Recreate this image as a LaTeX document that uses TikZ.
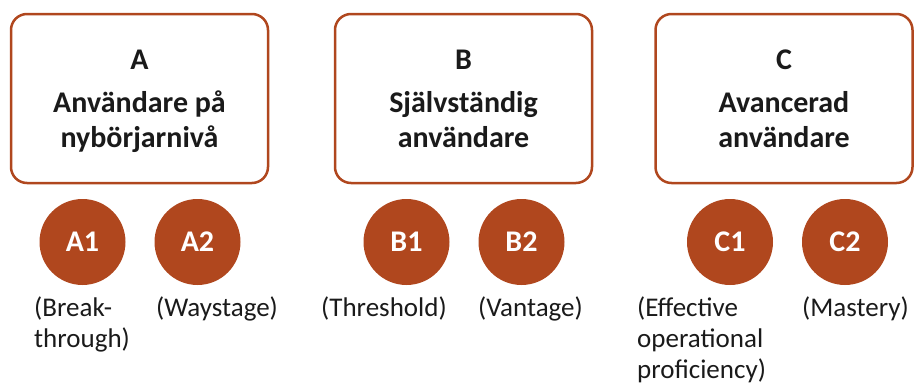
\documentclass[tikz,border=0pt]{standalone}
\usepackage{fontspec}
\setmainfont{Carlito}
\usepackage{tikz}
\usetikzlibrary{positioning}
\definecolor{rust}{RGB}{176,71,30}
\definecolor{ink}{RGB}{26,26,26}
\tikzset{
	levelbox/.style={
		draw=rust,
		line width=2.5pt,
		rounded corners=16pt,
		minimum width=257pt,
		minimum height=169pt,
		inner sep=0pt
	},
	boxtext/.style={
		text=ink,
		inner sep=0pt,
		font=\fontsize{30}{35}\selectfont\bfseries
	},
	sublevel/.style={
		circle,
		fill=rust,
		text=white,
		minimum size=86pt,
		inner sep=0pt,
		outer sep=0pt,
		font=\fontsize{30}{35}\selectfont\bfseries
	},
	sublabel/.style={
		anchor=base west,
		text=ink,
		inner sep=0pt,
		font=\fontsize{27}{31}\selectfont
	}
}

\begin{document}
\begin{tikzpicture}[x=1pt, y=-1pt]
	\useasboundingbox (0,0) rectangle (914,383);

	% levels
	\foreach \lvl/\cx/\lineA/\lineB in {A/139.5/Användare på/nybörjarnivå, B/463.5/Självständig/användare, C/784/Avancerad/användare} {
		\node[levelbox] (\lvl) at (\cx,98.5) {};
		\node[boxtext, anchor=base] (\lvl-t) at (\cx,69) {\begin{tabular}[t]{@{}c@{}}\lvl\\[8pt]\lineA\\\lineB\end{tabular}};
	}

	% sublevels
	\foreach \lvl/\cx in {A/82.5, B/406.5, C/730} {
		\node[sublevel] (\lvl1) at (\cx,242) {\lvl1};
		\node[sublevel, right=29pt of \lvl1] (\lvl2) {\lvl2};
	}

	% names
	\node[sublabel] (A1-l) at (34,316.5) {\begin{tabular}[t]{@{}l@{}}(Break-\\through)\end{tabular}};
	\node[sublabel] (A2-l) at (156,316.5) {(Waystage)};
	\node[sublabel] (B1-l) at (321,316.5) {(Threshold)};
	\node[sublabel] (B2-l) at (478,316.5) {(Vantage)};
	\node[sublabel] (C1-l) at (637,316.5) {\begin{tabular}[t]{@{}l@{}}(Effective\\operational\\proficiency)\end{tabular}};
	\node[sublabel] (C2-l) at (802,316.5) {(Mastery)};
\end{tikzpicture}
\end{document}
